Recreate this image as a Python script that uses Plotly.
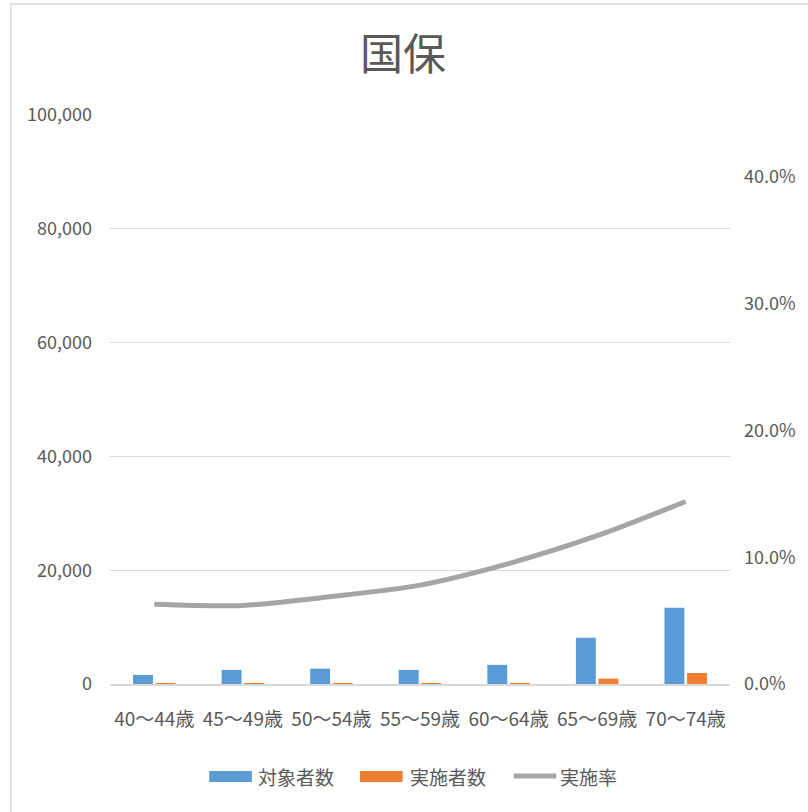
import plotly.graph_objects as go

# Age bands (national health insurance)
categories = ["40～44歳", "45～49歳", "50～54歳", "55～59歳", "60～64歳", "65～69歳", "70～74歳"]
targets = [1600, 2480, 2700, 2480, 3360, 8150, 13400]          # 対象者数
participants = [10, 10, 10, 10, 15, 950, 1930]                 # 実施者数
rates = [0.063, 0.062, 0.069, 0.078, 0.095, 0.117, 0.144]      # 実施率

left_ticks = [0, 20000, 40000, 60000, 80000, 100000]
right_ticks = [0.0, 0.1, 0.2, 0.3, 0.4]

BLUE = "#5B9BD5"
ORANGE = "#ED7D31"
GRAY = "#A5A5A5"
TEXT = "#595959"
GRID = "#D9D9D9"
FONT = "Noto Sans CJK JP"

W, H = 808, 812
ML, MR, MT, MB = 110, 73, 115, 128
PW, PH = W - ML - MR, H - MT - MB


def px(x):
    return (x - ML) / PW


def py(y):
    return (H - MB - y) / PH


fig = go.Figure()
fig.add_trace(go.Bar(x=categories, y=targets, name="対象者数", marker_color=BLUE,
                     marker_line_width=0, showlegend=False))
fig.add_trace(go.Bar(x=categories, y=participants, name="実施者数", marker_color=ORANGE,
                     marker_line_width=0, showlegend=False))
fig.add_trace(go.Scatter(x=categories, y=rates, name="実施率", yaxis="y2", mode="lines",
                         line=dict(color=GRAY, width=5, shape="spline", smoothing=0.8),
                         showlegend=False))

# Hand-placed legend row
shapes = [
    dict(type="rect", xref="paper", yref="paper", x0=px(210), x1=px(253), y0=py(782), y1=py(771),
         fillcolor=BLUE, line_width=0),
    dict(type="rect", xref="paper", yref="paper", x0=px(362), x1=px(405), y0=py(782), y1=py(771),
         fillcolor=ORANGE, line_width=0),
    dict(type="line", xref="paper", yref="paper", x0=px(517), x1=px(560), y0=py(776), y1=py(776),
         line=dict(color=GRAY, width=5)),
    # chart-area frame
    dict(type="line", xref="paper", yref="paper", x0=px(10), x1=px(10), y0=py(4), y1=py(820),
         line=dict(color=GRID, width=1.5)),
    dict(type="line", xref="paper", yref="paper", x0=px(10), x1=px(820), y0=py(4), y1=py(4),
         line=dict(color=GRID, width=1.5)),
]
legend_labels = [("対象者数", 257), ("実施者数", 410), ("実施率", 562)]
annotations = [
    dict(text=t, x=px(x), y=py(776), xref="paper", yref="paper", xanchor="left", yanchor="middle",
         showarrow=False, font=dict(family=FONT, size=19, color=TEXT))
    for t, x in legend_labels
]

fig.update_layout(
    width=W, height=H,
    margin=dict(l=ML, r=MR, t=MT, b=MB),
    paper_bgcolor="white", plot_bgcolor="white",
    font=dict(family=FONT, color=TEXT, size=18),
    title=dict(text="国保", xref="container", x=403 / W, xanchor="center",
               yref="container", y=1 - 55 / H, yanchor="middle",
               font=dict(family=FONT, size=43, color=TEXT)),
    barmode="group", bargap=0.49, bargroupgap=0.12,
    xaxis=dict(showgrid=False, showline=True, linecolor=GRID, linewidth=2, layer="above traces",
               ticks="", ticklabelstandoff=17, tickfont=dict(size=19)),
    yaxis=dict(range=[0, 100000], tickvals=left_ticks, tickformat=",d",
               showgrid=True, gridcolor=GRID, gridwidth=1, zeroline=False,
               showline=False, ticks="", ticklabelstandoff=17, tickfont=dict(size=18)),
    yaxis2=dict(range=[0, 0.449], tickvals=right_ticks, tickformat=".1%",
                overlaying="y", side="right", showgrid=False, zeroline=False,
                showline=False, ticks="", ticklabelstandoff=13, tickfont=dict(size=18)),
    shapes=shapes,
    annotations=annotations,
)

fig.write_html("out.html")
